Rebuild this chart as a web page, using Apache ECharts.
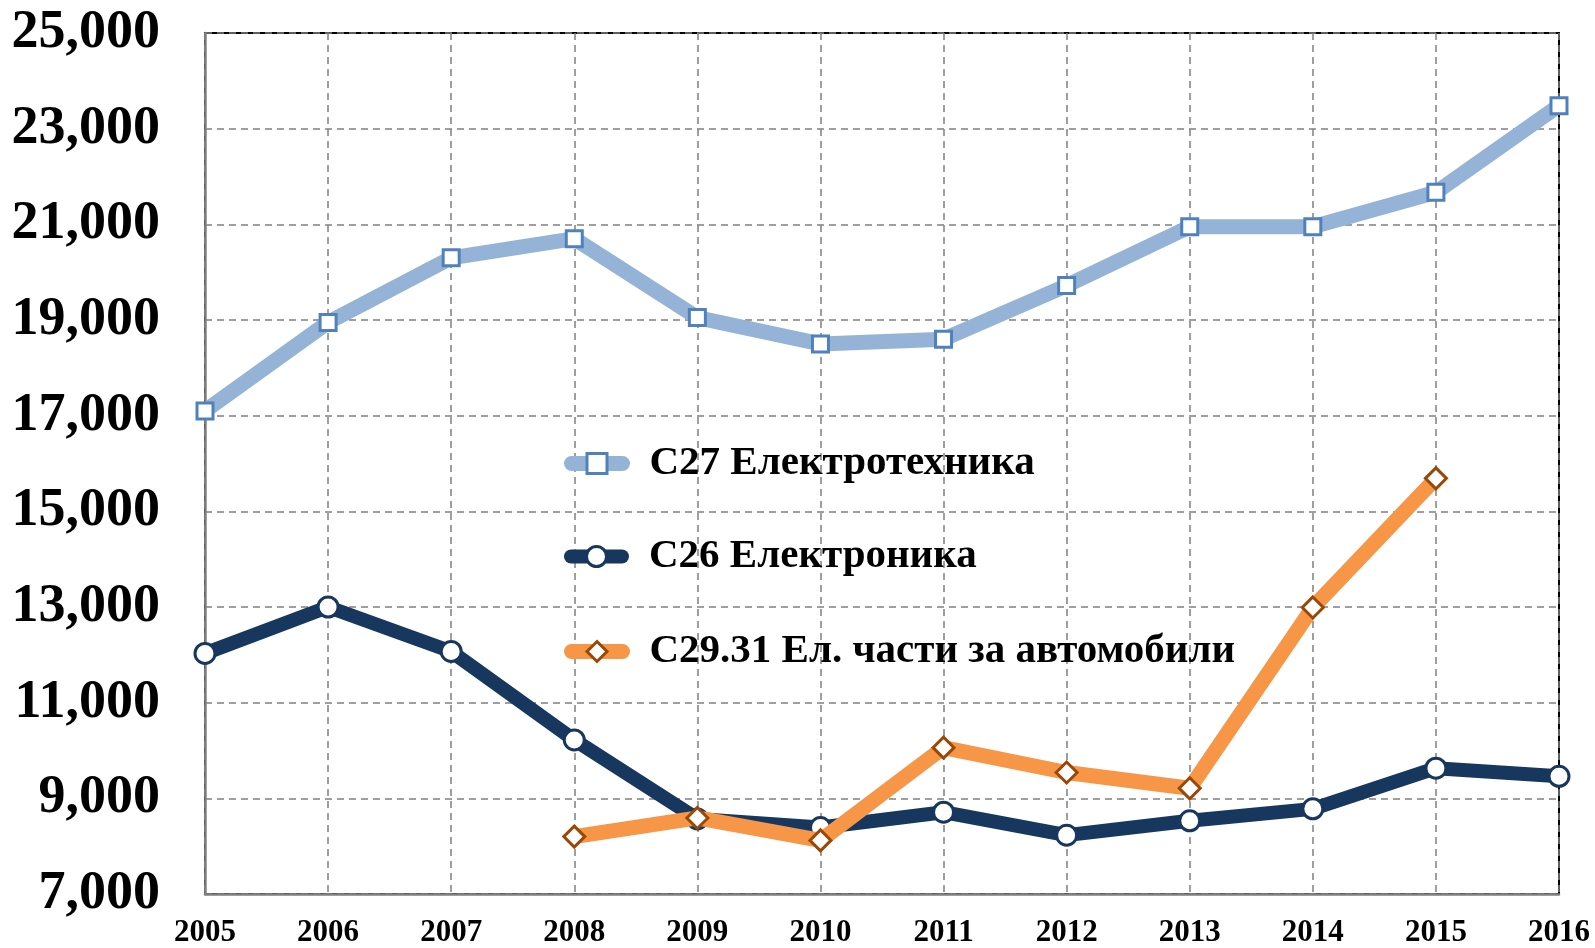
<!DOCTYPE html>
<html>
<head>
<meta charset="utf-8">
<script src="https://cdn.jsdelivr.net/npm/echarts@6/dist/echarts.min.js"></script>
<style>html,body{margin:0;padding:0;background:#fff}#c{width:1595px;height:948px}</style>
</head>
<body>
<div id="c"></div>
<script>
const years = ['2005','2006','2007','2008','2009','2010','2011','2012','2013','2014','2015','2016'];
const c27 = [17100, 18950, 20300, 20700, 19050, 18500, 18600, 19720, 20950, 20950, 21670, 23480];
const c26 = [12030, 13000, 12070, 10220, 8570, 8390, 8710, 8230, 8530, 8780, 9630, 9460];
const c2931 = [null, null, null, 8200, 8590, 8120, 10060, 9540, 9210, 12990, 15690, null];
const names = ['С27 Електротехника', 'С26 Електроника', 'С29.31 Ел. части за автомобили'];

const chart = echarts.init(document.getElementById('c'));
const font = '"Liberation Serif", "Times New Roman", serif';
function legend(name, top, lw) {
  return {
    data: [name], left: 564, top: top, padding: 0, itemWidth: 51, itemHeight: 25,
    textStyle: {fontFamily: font, fontWeight: 'bold', fontSize: 41, color: '#000', padding: [0,0,0,22]},
    lineStyle: {cap: 'round', width: lw},
    itemStyle: {borderWidth: 3}
  };
}
chart.setOption({
  animation: false,
  grid: {left: 205, right: 36, top: 33, bottom: 53, show: true, borderColor: '#000', borderWidth: 2},
  legend: [legend(names[0], 443, 15), legend(names[1], 536, 14), legend(names[2], 631, 15)],
  xAxis: {
    type: 'category', data: years, boundaryGap: false,
    axisLine: {lineStyle: {color: '#808080', width: 2.5}},
    axisTick: {show: false},
    axisLabel: {fontFamily: font, fontWeight: 'bold', fontSize: 31, color: '#000', margin: 23},
    splitLine: {show: true, lineStyle: {type: [7, 5], color: '#808080', width: 1.5}}
  },
  yAxis: {
    type: 'value', min: 7000, max: 25000, interval: 2000,
    axisLine: {show: true, lineStyle: {color: '#808080', width: 2.5}},
    axisTick: {show: false},
    axisLabel: {fontFamily: font, fontWeight: 'bold', fontSize: 54, color: '#000', margin: 45,
      formatter: v => v.toLocaleString('en-US')},
    splitLine: {show: true, lineStyle: {type: [7, 5], color: '#808080', width: 1.5}}
  },
  series: [
    {name: names[0], type: 'line', data: c27, symbol: 'rect', symbolSize: 16,
     lineStyle: {color: '#95B3D7', width: 15},
     itemStyle: {color: '#fff', borderColor: '#4F81BD', borderWidth: 3}, z: 2},
    {name: names[1], type: 'line', data: c26, symbol: 'circle', symbolSize: 20,
     lineStyle: {color: '#17375E', width: 14},
     itemStyle: {color: '#fff', borderColor: '#17375E', borderWidth: 3}, z: 3},
    {name: names[2], type: 'line', data: c2931, symbol: 'diamond', symbolSize: 21,
     lineStyle: {color: '#F79646', width: 15},
     itemStyle: {color: '#fff', borderColor: '#984807', borderWidth: 3}, z: 4}
  ]
});
</script>
</body>
</html>
